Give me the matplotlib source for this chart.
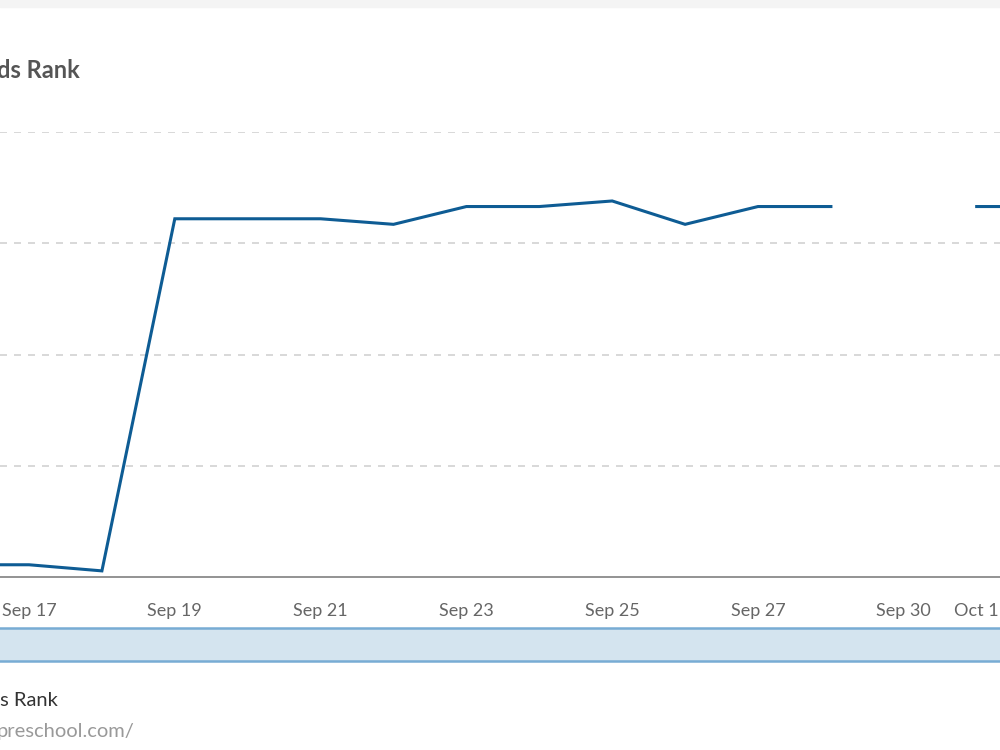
import numpy as np
import matplotlib
matplotlib.use('Agg')
import matplotlib.pyplot as plt
from matplotlib.patches import Rectangle

plt.rcParams['font.family'] = ['Lato', 'DejaVu Sans']

# ordinal axis: one slot per day that has a record (Sep 29 is missing, Sep 30 is null)
dates = ['Sep 16', 'Sep 17', 'Sep 18', 'Sep 19', 'Sep 20', 'Sep 21', 'Sep 22', 'Sep 23',
         'Sep 24', 'Sep 25', 'Sep 26', 'Sep 27', 'Sep 28', 'Sep 30', 'Oct 1', 'Oct 2']
rank = [1.1, 1.1, 0.55, 32.2, 32.2, 32.2, 31.7, 33.3,
        33.3, 33.8, 31.7, 33.3, 33.3, np.nan, 33.3, 33.3]
tick_dates = ['Sep 17', 'Sep 19', 'Sep 21', 'Sep 23', 'Sep 25', 'Sep 27', 'Sep 30', 'Oct 1']
grid_vals = [10, 20, 30, 40]

fig = plt.figure(figsize=(10, 7.5), dpi=100)

# faint band along the top edge
fig.patches.append(Rectangle((0, 1 - 7 / 750), 1, 7 / 750, transform=fig.transFigure,
                             color='#f4f4f4', zorder=0))

ax = fig.add_axes([0, 173 / 750, 1, 445 / 750])
x = np.arange(len(dates))
ax.plot(x, rank, color='#0e5c94', lw=2.2, solid_joinstyle='miter', zorder=3)

ax.set_xlim(1 - 29 / 72.9, 1 + 971 / 72.9)
ax.set_ylim(0, 40)

ax.set_xticks([dates.index(d) for d in tick_dates])
ax.set_xticklabels(tick_dates)
ax.tick_params(axis='x', length=0, pad=19, labelsize=13, labelcolor='#666666')
ax.set_yticks([])

for g in grid_vals:
    ln = ax.axhline(g, color='#d2d2d2', lw=1.2, zorder=1)
    ln.set_dashes((4.2, 4.2))

for s in ['top', 'left', 'right']:
    ax.spines[s].set_visible(False)
ax.spines['bottom'].set_color('#8a8a8a')
ax.spines['bottom'].set_linewidth(1.3)

# navigator mask
fig.patches.append(Rectangle((0, 1 - 662 / 750), 1, 34 / 750, transform=fig.transFigure,
                             facecolor='#d4e4ef', edgecolor='none', zorder=1))
for yy in [628, 661]:
    fig.add_artist(plt.Line2D([0, 1], [1 - yy / 750] * 2, transform=fig.transFigure,
                              color='#78acd4', lw=1.8))

fig.text(80 / 1000, 1 - 70 / 750, 'ds Rank', ha='right', va='center',
         fontsize=17, fontweight='bold', color='#555555')
fig.text(58 / 1000, 1 - 700 / 750, 's Rank', ha='right', va='center',
         fontsize=14.5, color='#333333')
fig.text(134 / 1000, 1 - 731 / 750, 'preschool.com/', ha='right', va='center',
         fontsize=14.5, color='#999999')

fig.savefig('out.png', dpi=100)
